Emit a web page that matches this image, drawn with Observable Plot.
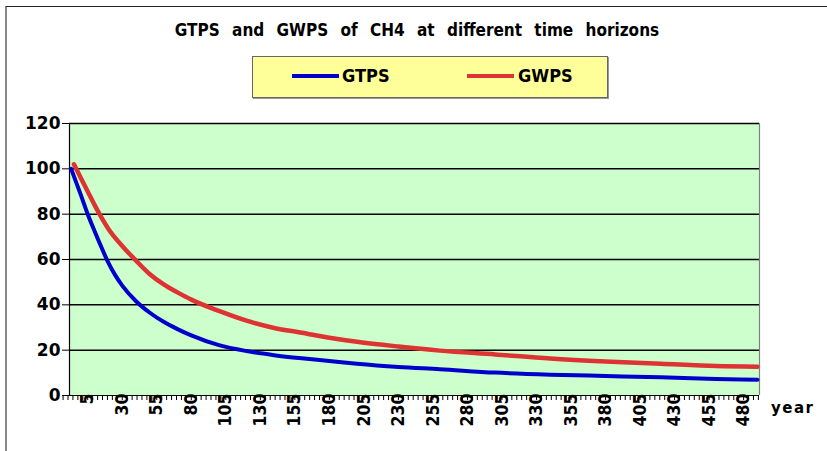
<!DOCTYPE html>
<html>
<head>
<meta charset="utf-8">
<script src="https://cdn.jsdelivr.net/npm/d3@7"></script>
<script src="https://cdn.jsdelivr.net/npm/@observablehq/plot@0.6"></script>
<style>
  html, body { margin: 0; padding: 0; background: #fff; }
  #wrap { position: relative; width: 827px; height: 451px; overflow: hidden; background: #fff; }
  #border { position: absolute; left: 5px; top: 6px; width: 900px; height: 600px; border-top: 1px solid #222; border-left: 2px solid #888; }
  #title { position: absolute; left: 0; width: 834px; top: 20px; text-align: center; font-family: "DejaVu Sans Condensed", "DejaVu Sans", sans-serif; font-weight: bold; font-size: 17px; word-spacing: 7px; color: #000; }
  #legend { position: absolute; left: 252px; top: 56px; width: 354px; height: 40px; background: #ffff99; border: 1.5px solid #666; box-shadow: 1px 1px 0 #999; }
  .key { position: absolute; top: 17px; width: 47px; height: 4px; }
  .lab { position: absolute; top: 8px; font-family: "DejaVu Sans Condensed", "DejaVu Sans", sans-serif; font-weight: bold; font-size: 18px; color: #000; }
  #plot { position: absolute; left: 0; top: 0; }
  #year { position: absolute; left: 771px; top: 399px; font-family: "DejaVu Sans", sans-serif; font-weight: bold; font-size: 15px; letter-spacing: 1.5px; color: #000; }
</style>
</head>
<body>
<div id="wrap">
  <div id="border"></div>
  <div id="title">GTPS and GWPS of CH4 at different time horizons</div>
  <div id="legend">
    <div class="key" style="left:39px;background:#0000cc"></div>
    <div class="lab" style="left:89px">GTPS</div>
    <div class="key" style="left:214px;background:#dd3333"></div>
    <div class="lab" style="left:265px">GWPS</div>
  </div>
  <div id="plot"></div>
  <div id="year">year</div>
</div>
<script>
// Time horizon positions (years) and index values
const gtpsYears = [-7, 0, 5, 10, 15, 20, 25, 30, 40, 50, 60, 70, 80, 100, 120, 140, 160, 180, 200, 230, 260, 300, 340, 380, 420, 460, 490];
const gtps      = [100, 88.5, 80, 72.5, 65.3, 58.5, 53, 48.5, 41.6, 36.5, 32.5, 29.3, 26.5, 22.2, 19.6, 17.8, 16.4, 15.2, 14.0, 12.6, 11.6, 10.1, 9.2, 8.6, 8.0, 7.3, 7.0];
const gwpsYears = [-5, 0, 5, 10, 15, 20, 30, 40, 50, 60, 70, 80, 100, 120, 140, 160, 180, 200, 230, 260, 300, 340, 380, 420, 460, 490];
const gwps      = [102, 96, 90, 84, 78.5, 73.5, 66, 59.5, 53.5, 49, 45.5, 42.3, 37.3, 33.0, 29.8, 27.7, 25.5, 23.7, 21.6, 19.8, 18.1, 16.3, 15.0, 14.0, 13.0, 12.7];

// Axis labels
const xLabels = [5, 30, 55, 80, 105, 130, 155, 180, 205, 230, 255, 280, 305, 330, 355, 380, 405, 430, 455, 480];
const yTicks = [0, 20, 40, 60, 80, 100, 120];
const xMinor = d3.range(-5 * 25 / 7 + 5, 492, 25 / 7);

const gtpsData = gtpsYears.map((y, i) => ({year: y, v: gtps[i]}));
const gwpsData = gwpsYears.map((y, i) => ({year: y, v: gwps[i]}));

const chart = Plot.plot({
  width: 827,
  height: 451,
  marginLeft: 69,
  marginRight: 68,
  marginTop: 123,
  marginBottom: 56,
  style: {background: "transparent", overflow: "visible"},
  x: {domain: [-8.2, 491.5], axis: null},
  y: {domain: [0, 120]},
  marks: [
    Plot.frame({fill: "#ccffcc", stroke: null}),
    Plot.ruleY(yTicks.filter(d => d > 0), {stroke: "#000", strokeWidth: 1.5}),
    Plot.ruleX([491.5], {stroke: "#808080", strokeWidth: 1.2}),
    Plot.ruleX([-8.2], {stroke: "#000", strokeWidth: 1.2}),
    Plot.ruleY([0], {stroke: "#000", strokeWidth: 1.2}),
    Plot.axisY({ticks: yTicks, tickSize: 7, tickPadding: 2, fontSize: 17, fontWeight: "bold", fontFamily: "DejaVu Sans", label: null, tickFormat: d => d}),
    Plot.axisX({ticks: xMinor, tickSize: 5, text: null, label: null}),
    Plot.text(xLabels, {x: d => d, frameAnchor: "bottom", text: d => String(d), rotate: -90, textAnchor: "end", lineAnchor: "middle", dy: -2, fontSize: 17.5, fontWeight: "bold", fontFamily: "DejaVu Sans Condensed", fill: "#000"}),
    Plot.line(gwpsData, {x: "year", y: "v", stroke: "#dd3333", strokeWidth: 4.5, curve: "monotone-x"}),
    Plot.line(gtpsData, {x: "year", y: "v", stroke: "#0000cc", strokeWidth: 4, curve: "monotone-x"})
  ]
});
document.getElementById("plot").appendChild(chart);
</script>
</body>
</html>
